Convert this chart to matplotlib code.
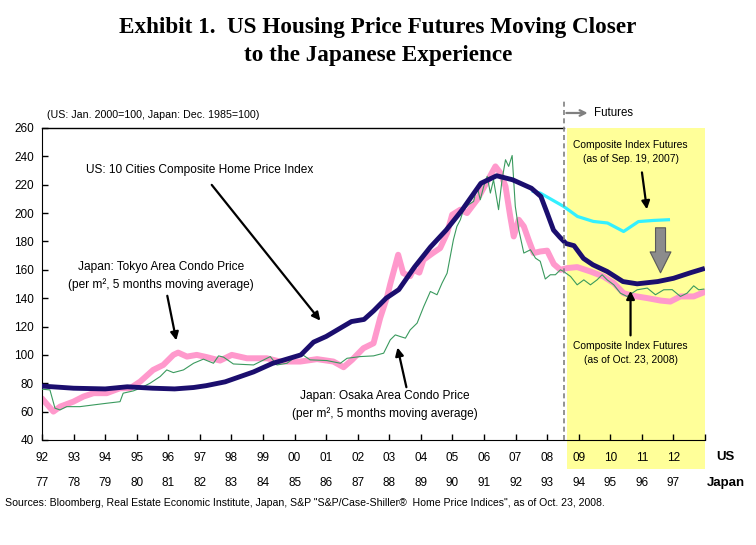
import matplotlib
matplotlib.use("Agg")
import matplotlib.pyplot as plt
from matplotlib.patches import Rectangle
import matplotlib.transforms as mtransforms

plt.rcParams['font.family'] = ['Liberation Sans', 'DejaVu Sans']

# US: S&P/Case-Shiller 10 cities composite (Jan. 2000 = 100), x in US years
us_x = [1992.0, 1993.0, 1994.0, 1994.7, 1995.5, 1996.2, 1996.8, 1997.2, 1997.8,
        1998.7, 1999.3, 2000.2, 2000.6, 2001.0, 2001.8, 2002.2, 2002.5, 2002.9,
        2003.3, 2003.8, 2004.3, 2004.8, 2005.3, 2005.9, 2006.4, 2006.9, 2007.5,
        2007.8, 2008.0, 2008.2, 2008.4, 2008.6, 2008.85, 2009.15, 2009.45,
        2009.9, 2010.4, 2010.85, 2011.5, 2012.0, 2012.55, 2012.92]
us_y = [78.0, 76.5, 76.0, 77.5, 76.5, 76.0, 77.0, 78.3, 81.0,
        88.0, 94.0, 100.0, 109.0, 113.0, 123.5, 125.0, 131.0, 140.0,
        146.0, 162.0, 176.0, 188.0, 202.0, 221.0, 226.3, 223.5, 217.5,
        211.7, 200.0, 188.0, 183.0, 178.5, 177.0, 168.0, 163.5,
        158.8, 151.7, 150.1, 151.7, 154.0, 158.0, 160.5]

# Composite index futures as of Sep. 19, 2007
fut07_x = [2007.56, 2007.78, 2008.52, 2008.96, 2009.46, 2009.91, 2010.42,
           2010.89, 2011.37, 2011.84]
fut07_y = [215.3, 214.1, 204.7, 197.6, 194.1, 193.0, 187.0, 194.0, 194.8, 195.3]

# Japan: Tokyo area condo price (Dec. 1985 = 100), shifted by 15 years
tokyo_x = [1992.04, 1992.36, 1992.57, 1992.99, 1993.31, 1993.63, 1994.05, 1994.47,
           1994.79, 1995.11, 1995.52, 1995.84, 1996.16, 1996.31, 1996.59, 1996.90,
           1997.22, 1997.64, 1998.01, 1998.49, 1999.12, 1999.54, 2000.18, 2000.71,
           2001.23, 2001.55, 2001.82, 2002.18, 2002.50, 2002.71, 2002.93, 2003.03,
           2003.28, 2003.44, 2003.66, 2003.76, 2003.95, 2004.08, 2004.39, 2004.61,
           2004.83, 2004.99, 2005.25, 2005.46, 2005.78, 2006.10, 2006.36, 2006.52,
           2006.68, 2006.83, 2006.94, 2007.10, 2007.26, 2007.41, 2007.57, 2007.78,
           2008.00, 2008.21, 2008.42, 2008.63, 2008.95, 2009.37, 2009.78, 2010.11,
           2010.42, 2010.73, 2011.18, 2011.59, 2011.90, 2012.22, 2012.64, 2012.95]
tokyo_y = [68.2, 60.0, 63.5, 67.0, 70.6, 73.0, 73.0, 76.5,
           76.5, 81.2, 89.4, 92.9, 100.0, 101.6, 98.8, 100.0,
           98.4, 96.0, 100.0, 97.6, 97.6, 95.3, 95.3, 97.0,
           95.3, 91.3, 96.5, 104.7, 108.2, 126.0, 141.0, 150.0,
           170.6, 157.6, 155.5, 160.0, 158.0, 167.0, 172.0, 175.3,
           185.9, 198.8, 202.4, 200.0, 209.4, 222.3, 232.9, 228.2,
           218.8, 197.6, 183.5, 195.3, 190.6, 181.2, 171.8, 172.9,
           173.5, 164.0, 160.0, 161.2, 161.9, 158.8, 155.3, 150.6,
           143.5, 141.6, 140.0, 138.3, 137.6, 141.2, 141.2, 144.0]

# Japan: Osaka area condo price (Dec. 1985 = 100), shifted by 15 years
osaka_x = [1992.0, 1992.25, 1992.41, 1992.57, 1992.78, 1993.20, 1993.62, 1994.05,
           1994.47, 1994.57, 1994.89, 1995.11, 1995.42, 1995.74, 1995.95, 1996.16,
           1996.48, 1996.80, 1997.11, 1997.43, 1997.59, 1997.75, 1998.06, 1998.70,
           1999.23, 1999.44, 1999.76, 2000.18, 2000.49, 2001.02, 2001.45, 2001.66,
           2002.08, 2002.50, 2002.82, 2003.03, 2003.19, 2003.35, 2003.51, 2003.66,
           2003.88, 2004.09, 2004.30, 2004.51, 2004.67, 2004.83, 2004.93, 2005.03,
           2005.14, 2005.25, 2005.35, 2005.51, 2005.67, 2005.78, 2005.88, 2005.99,
           2006.10, 2006.20, 2006.30, 2006.46, 2006.57, 2006.68, 2006.78, 2006.89,
           2006.99, 2007.10, 2007.26, 2007.47, 2007.63, 2007.78, 2007.94, 2008.10,
           2008.26, 2008.42, 2008.52, 2008.74, 2008.95, 2009.16, 2009.37, 2009.58,
           2009.74, 2009.90, 2010.11, 2010.32, 2010.53, 2010.85, 2011.17, 2011.43,
           2011.69, 2011.96, 2012.22, 2012.43, 2012.64, 2012.80, 2012.96]
osaka_y = [75.8, 75.3, 62.4, 61.2, 63.5, 63.5, 64.7, 65.9,
           67.0, 73.0, 74.6, 76.5, 80.0, 84.7, 89.4, 87.5,
           89.4, 94.1, 97.0, 94.1, 99.3, 98.4, 93.6, 92.9,
           98.8, 92.9, 94.1, 101.2, 96.5, 96.0, 94.1, 97.6,
           98.8, 99.3, 101.2, 110.6, 114.1, 112.9, 111.8, 117.6,
           122.4, 134.1, 144.7, 142.4, 150.6, 157.6, 169.4, 181.2,
           190.6, 195.3, 202.4, 205.9, 208.2, 218.8, 209.4, 218.8,
           225.9, 214.1, 223.5, 202.4, 223.5, 237.6, 232.9, 240.6,
           204.7, 188.2, 171.8, 174.1, 168.2, 166.0, 153.5, 156.5,
           156.5, 160.0, 158.8, 155.3, 149.4, 152.9, 149.4, 152.9,
           156.5, 152.9, 149.4, 143.5, 141.2, 145.9, 147.1, 142.4,
           145.9, 146.0, 141.2, 143.5, 148.7, 145.9, 146.4]

us_years = list(range(1992, 2013))
us_labels = ["%02d" % (y % 100) for y in us_years]
jp_labels = ["%02d" % ((y - 15) % 100) for y in us_years]

futures_start = 2008.52
shade_start = 2008.63

fig = plt.figure(figsize=(7.56, 5.45), dpi=100)
ax = fig.add_axes([0.0556, 0.1927, 0.877, 0.5725])
ax.set_xlim(1992, 2013)
ax.set_ylim(40, 260)

trans = mtransforms.blended_transform_factory(ax.transData, ax.transAxes)

# yellow futures region (runs down over the US year labels)
ax.add_patch(Rectangle((shade_start, -0.093), 2013 - shade_start, 1.093,
                       transform=trans, facecolor='#ffff99', edgecolor='none',
                       clip_on=False, zorder=0))

ax.plot(tokyo_x, tokyo_y, color='#ff99cc', lw=4.3, solid_joinstyle='round', zorder=2)
ax.plot(osaka_x, osaka_y, color='#3a9a5e', lw=0.8, zorder=3)
ax.plot(fut07_x, fut07_y, color='#33f0ff', lw=2.3, zorder=4)
ax.plot(us_x, us_y, color='#1b0e6e', lw=3.5, solid_joinstyle='round', zorder=5)

# dashed line marking start of futures
ax.plot([futures_start, futures_start], [0, 1.09], transform=trans, color='#808080',
        lw=1.2, ls=(0, (3, 2)), clip_on=False, zorder=6)
ax.annotate('', xy=(2009.37, 1.048), xytext=(futures_start, 1.048),
            xycoords=trans, textcoords=trans,
            arrowprops=dict(arrowstyle='->', color='#808080', lw=1.6))
ax.text(2009.48, 1.048, 'Futures', transform=trans, fontsize=8.3, va='center', ha='left')

# spines and ticks
for side in ['top', 'right']:
    ax.spines[side].set_visible(False)
ax.plot([1992, futures_start], [1, 1], transform=trans, color='black', lw=1.0,
        clip_on=False)
ax.set_yticks(range(40, 261, 20))
ax.set_xticks(range(1992, 2014))
ax.set_xticklabels(us_labels + [''])
ax.tick_params(axis='both', direction='in', length=4, width=1, labelsize=8.5)
ax.tick_params(axis='x', pad=9)
ax.tick_params(axis='y', pad=6)

for yr, lab in zip(us_years, jp_labels):
    ax.text(yr, -0.138, lab, transform=trans, fontsize=8.5, ha='center', va='center')
ax.text(1.031, -0.0545, 'US', transform=ax.transAxes, fontsize=9.5,
        fontweight='bold', ha='center', va='center')
ax.text(1.031, -0.138, 'Japan', transform=ax.transAxes, fontsize=9.5,
        fontweight='bold', ha='center', va='center')

# annotations
arrow_kw = dict(arrowstyle='-|>', color='black', lw=1.6, mutation_scale=12)
ax.text(1997.0, 230.6, 'US: 10 Cities Composite Home Price Index', fontsize=8.6,
        ha='center', va='center')
ax.annotate('', xy=(2000.87, 122.6), xytext=(1997.32, 221.4), arrowprops=arrow_kw)

ax.text(1995.77, 155.5, 'Japan: Tokyo Area Condo Price\n(per m², 5 months moving average)',
        fontsize=8.6, ha='center', va='center', linespacing=1.55)
ax.annotate('', xy=(1996.27, 108.3), xytext=(1995.95, 143.6), arrowprops=arrow_kw)

ax.text(2002.87, 64.7, 'Japan: Osaka Area Condo Price\n(per m², 5 months moving average)',
        fontsize=8.6, ha='center', va='center', linespacing=1.55)
ax.annotate('', xy=(2003.24, 107.1), xytext=(2003.56, 75.3), arrowprops=arrow_kw)

ax.text(2010.64, 243.2, 'Composite Index Futures\n(as of Sep. 19, 2007)',
        fontsize=7.4, ha='center', va='center', linespacing=1.5)
ax.annotate('', xy=(2011.17, 200.7), xytext=(2010.99, 230.6), arrowprops=arrow_kw)

ax.text(2010.64, 101.6, 'Composite Index Futures\n(as of Oct. 23, 2008)',
        fontsize=7.4, ha='center', va='center', linespacing=1.5)
ax.annotate('', xy=(2010.64, 147.1), xytext=(2010.64, 111.8), arrowprops=arrow_kw)

# big grey arrow: futures moved down
ax.annotate('', xy=(2011.59, 157.9), xytext=(2011.59, 189.6),
            arrowprops=dict(arrowstyle='simple,head_length=1.5,head_width=1.5,tail_width=0.72',
                            mutation_scale=10, facecolor='#8c8c8c', edgecolor='#5a5a5a',
                            lw=0.8, shrinkA=0, shrinkB=0))

ax.text(0.008, 1.042, '(US: Jan. 2000=100, Japan: Dec. 1985=100)', transform=ax.transAxes,
        fontsize=7.7, ha='left', va='center')

fig.text(0.5, 1 - 27 / 545, 'Exhibit 1.  US Housing Price Futures Moving Closer',
         family='Liberation Serif', fontweight='bold', fontsize=16.7, ha='center', va='center')
fig.text(0.5, 1 - 55 / 545, 'to the Japanese Experience',
         family='Liberation Serif', fontweight='bold', fontsize=16.7, ha='center', va='center')

fig.text(0.007, 1 - 503 / 545,
         'Sources: Bloomberg, Real Estate Economic Institute, Japan, S&P "S&P/Case-Shiller\u00ae  '
         'Home Price Indices", as of Oct. 23, 2008.', fontsize=7.6, ha='left', va='center')

fig.savefig('out.png', dpi=100)
